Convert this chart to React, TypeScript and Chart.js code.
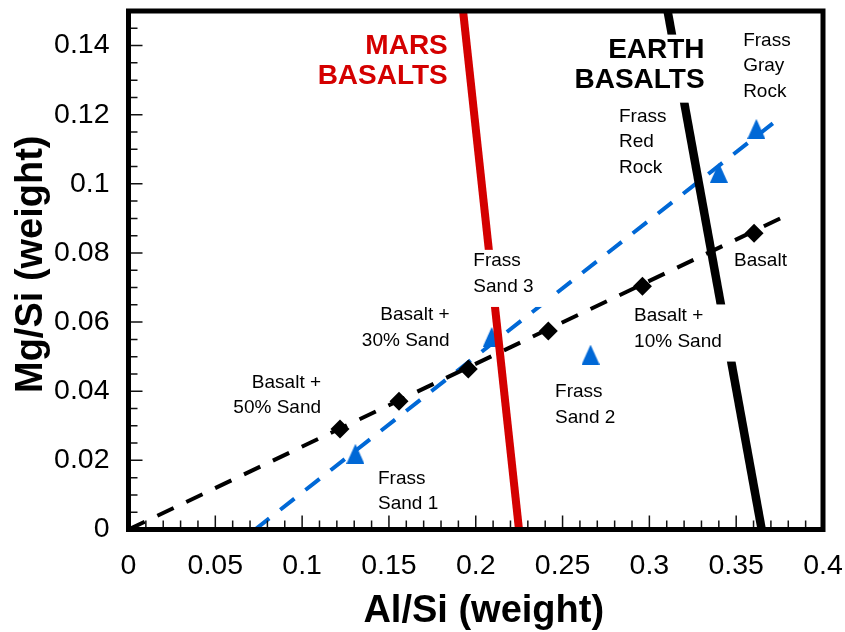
import React, { useEffect, useRef } from 'react';
import { Chart, registerables } from 'chart.js';

Chart.register(...registerables);

// ---------- data ----------
const xTickLabels = ['0', '0.05', '0.1', '0.15', '0.2', '0.25', '0.3', '0.35', '0.4'];
const yTickLabels = ['0', '0.02', '0.04', '0.06', '0.08', '0.1', '0.12', '0.14'];

// Basalt + sand mixtures (black diamonds)
const basaltMixAlSi = [0.1218, 0.1558, 0.1957, 0.2418, 0.296, 0.3603];
const basaltMixMgSi = [0.0291, 0.0371, 0.0464, 0.0574, 0.0704, 0.0857];

// Frass samples (blue triangles): Sand 1, Sand 2, Sand 3, Red Rock, Gray Rock
const frassAlSi = [0.1307, 0.2661, 0.2092, 0.34, 0.3616];
const frassMgSi = [0.0219, 0.0506, 0.0557, 0.1032, 0.1159];

// Trend lines
const basaltTrendAlSi = [0, 0.3763];
const basaltTrendMgSi = [0, 0.0902];
const frassTrendAlSi = [0.0729, 0.3714];
const frassTrendMgSi = [0, 0.1176];

// Basalt fields
const marsAlSi = [0.1927, 0.2249];
const marsMgSi = [0.15, 0];
const earthAlSi = [0.3105, 0.3647];
const earthMgSi = [0.15, 0];

const xTitle = 'Al/Si (weight)';
const yTitle = 'Mg/Si (weight)';

type Note = { lines: string[]; x: number; y: number; align: 'left' | 'right'; kind: 'note' | 'mars' | 'earth'; bg?: boolean };
const notes: Note[] = [
  { lines: ['Frass', 'Sand 1'], x: 0.1437, y: 0.0133, align: 'left', kind: 'note' },
  { lines: ['Frass', 'Sand 2'], x: 0.2457, y: 0.0382, align: 'left', kind: 'note' },
  { lines: ['Frass', 'Sand 3'], x: 0.1986, y: 0.0761, align: 'left', kind: 'note', bg: true },
  { lines: ['Frass', 'Red', 'Rock'], x: 0.2825, y: 0.118, align: 'left', kind: 'note' },
  { lines: ['Frass', 'Gray', 'Rock'], x: 0.354, y: 0.1399, align: 'left', kind: 'note' },
  { lines: ['Basalt'], x: 0.3488, y: 0.0761, align: 'left', kind: 'note' },
  { lines: ['Basalt +', '10% Sand'], x: 0.2912, y: 0.0603, align: 'left', kind: 'note', bg: true },
  { lines: ['Basalt +', '30% Sand'], x: 0.1849, y: 0.0606, align: 'right', kind: 'note' },
  { lines: ['Basalt +', '50% Sand'], x: 0.1109, y: 0.041, align: 'right', kind: 'note' },
  { lines: ['MARS', 'BASALTS'], x: 0.1839, y: 0.1375, align: 'right', kind: 'mars' },
  { lines: ['EARTH', 'BASALTS'], x: 0.3318, y: 0.1365, align: 'right', kind: 'earth', bg: true },
];

// ---------- styles ----------
const FONT = "'Liberation Sans', Arial, Helvetica, sans-serif";
const RED = '#d40000';
const BLUE = '#0068d6';

const noteStyle = {
  note: { font: `19px ${FONT}`, size: 19, lh: 25.5, color: '#000' },
  mars: { font: `bold 28px ${FONT}`, size: 28, lh: 30, color: RED },
  earth: { font: `bold 28px ${FONT}`, size: 28, lh: 30, color: '#000' },
};

function pts(xs: number[], ys: number[]) {
  return xs.map((x, i) => ({ x, y: ys[i] }));
}

function tickLabel(labels: string[]) {
  return (v: number | string) => {
    const n = typeof v === 'number' ? v : parseFloat(v);
    const hit = labels.find((s) => Math.abs(parseFloat(s) - n) < 1e-9);
    return hit ?? '';
  };
}

function makeTriangle(w: number, h: number, color: string) {
  const c = document.createElement('canvas');
  c.width = w;
  c.height = h;
  const g = c.getContext('2d')!;
  g.fillStyle = color;
  g.beginPath();
  g.moveTo(w / 2, 0);
  g.lineTo(w, h);
  g.lineTo(0, h);
  g.closePath();
  g.fill();
  return c;
}

function noPadding(s: any) {
  s.paddingTop = 0;
  s.paddingBottom = 0;
  s.paddingLeft = 0;
  s.paddingRight = 0;
}

const decorPlugin = {
  id: 'decor',
  afterDatasetsDraw(chart: any) {
    const { ctx, chartArea: ca, scales } = chart;
    const xs = scales.x;
    const ys = scales.y;
    ctx.save();

    // notes (with optional white backgrounds)
    for (const n of notes) {
      const st = noteStyle[n.kind];
      ctx.font = st.font;
      const px = xs.getPixelForValue(n.x);
      const py = ys.getPixelForValue(n.y);
      const widths = n.lines.map((l) => ctx.measureText(l).width);
      const maxW = Math.max(...widths);
      const left = n.align === 'right' ? px - maxW : px;
      if (n.bg) {
        const top = py - st.size * 0.716 - 3;
        const bottom = py + (n.lines.length - 1) * st.lh + 15;
        ctx.fillStyle = '#fff';
        ctx.fillRect(left - 4, top, maxW + 20, bottom - top);
      }
      ctx.fillStyle = st.color;
      ctx.textAlign = n.align;
      ctx.textBaseline = 'alphabetic';
      n.lines.forEach((l, i) => ctx.fillText(l, px, py + i * st.lh));
    }

    // inside tick marks
    ctx.strokeStyle = '#111';
    ctx.lineWidth = 1.5;
    ctx.beginPath();
    for (const t of xs.ticks) {
      const p = xs.getPixelForValue(t.value);
      const len = t.label !== '' ? 14 : 9;
      ctx.moveTo(p, ca.bottom);
      ctx.lineTo(p, ca.bottom - len);
    }
    for (const t of ys.ticks) {
      const p = ys.getPixelForValue(t.value);
      const len = t.label !== '' ? 14 : 9;
      ctx.moveTo(ca.left, p);
      ctx.lineTo(ca.left + len, p);
    }
    ctx.stroke();

    // frame
    ctx.strokeStyle = '#000';
    ctx.lineWidth = 5;
    ctx.strokeRect(ca.left, ca.top, ca.right - ca.left, ca.bottom - ca.top);

    // axis titles
    ctx.fillStyle = '#000';
    ctx.font = `bold 38px ${FONT}`;
    ctx.textAlign = 'center';
    ctx.textBaseline = 'alphabetic';
    ctx.fillText(xTitle, (ca.left + ca.right) / 2 + 8, ca.bottom + 92.5);

    ctx.save();
    ctx.beginPath();
    ctx.rect(0, 137, ca.left - 2, ca.bottom);
    ctx.clip();
    ctx.translate(42, 393);
    ctx.rotate(-Math.PI / 2);
    ctx.textAlign = 'left';
    ctx.fillText(yTitle, 0, 0);
    ctx.restore();

    ctx.restore();
  },
};

export default function App() {
  const ref = useRef<HTMLCanvasElement | null>(null);

  useEffect(() => {
    if (!ref.current) return;
    const tri = makeTriangle(18, 20, BLUE);
    const chart = new Chart(ref.current, {
      type: 'scatter',
      data: {
        datasets: [
          {
            label: 'Mars basalts',
            data: pts(marsAlSi, marsMgSi),
            showLine: true,
            borderColor: RED,
            borderWidth: 8,
            pointRadius: 0,
            clip: 0,
            order: 1,
          },
          {
            label: 'Earth basalts',
            data: pts(earthAlSi, earthMgSi),
            showLine: true,
            borderColor: '#000',
            borderWidth: 8.5,
            pointRadius: 0,
            clip: 0,
            order: 1,
          },
          {
            label: 'Basalt mixtures',
            data: pts(basaltMixAlSi, basaltMixMgSi),
            pointStyle: 'rectRot',
            pointRadius: 9.5,
            backgroundColor: '#000',
            borderWidth: 0,
            showLine: false,
            order: 3,
          },
          {
            label: 'Frass',
            data: pts(frassAlSi, frassMgSi),
            pointStyle: tri as any,
            pointRadius: 10,
            showLine: false,
            order: 3,
          },
          {
            label: 'Basalt trend',
            data: pts(basaltTrendAlSi, basaltTrendMgSi),
            showLine: true,
            borderColor: '#000',
            borderWidth: 4,
            borderDash: [18, 14],
            pointRadius: 0,
            clip: 0,
            order: 5,
          },
          {
            label: 'Frass trend',
            data: pts(frassTrendAlSi, frassTrendMgSi),
            showLine: true,
            borderColor: BLUE,
            borderWidth: 4,
            borderDash: [18, 14],
            pointRadius: 0,
            clip: 0,
            order: 5,
          },
        ] as any,
      },
      options: {
        animation: false,
        responsive: false,
        devicePixelRatio: 1,
        layout: { padding: { top: 8.25, right: 22, left: 0, bottom: 0 } },
        plugins: { legend: { display: false }, tooltip: { enabled: false } },
        scales: {
          x: {
            type: 'linear',
            min: 0,
            max: 0.4,
            grid: { display: false, drawTicks: false },
            border: { display: false },
            ticks: {
              stepSize: 0.01,
              autoSkip: false,
              maxRotation: 0,
              padding: 20,
              color: '#000',
              font: { family: FONT, size: 28.5 },
              callback: tickLabel(xTickLabels) as any,
            },
            afterFit(s: any) {
              s.height = 102.5;
              noPadding(s);
            },
          },
          y: {
            type: 'linear',
            min: 0,
            max: 0.15,
            grid: { display: false, drawTicks: false },
            border: { display: false },
            ticks: {
              stepSize: 0.005,
              autoSkip: false,
              padding: 19,
              color: '#000',
              font: { family: FONT, size: 28.5 },
              callback: tickLabel(yTickLabels) as any,
            },
            afterFit(s: any) {
              s.width = 128.5;
              noPadding(s);
            },
          },
        },
      },
      plugins: [decorPlugin],
    });
    return () => chart.destroy();
  }, []);

  return (
    <div style={{ position: 'absolute', left: 0, top: 0, width: 845, height: 632, background: '#fff' }}>
      <canvas ref={ref} width={845} height={632} />
    </div>
  );
}
